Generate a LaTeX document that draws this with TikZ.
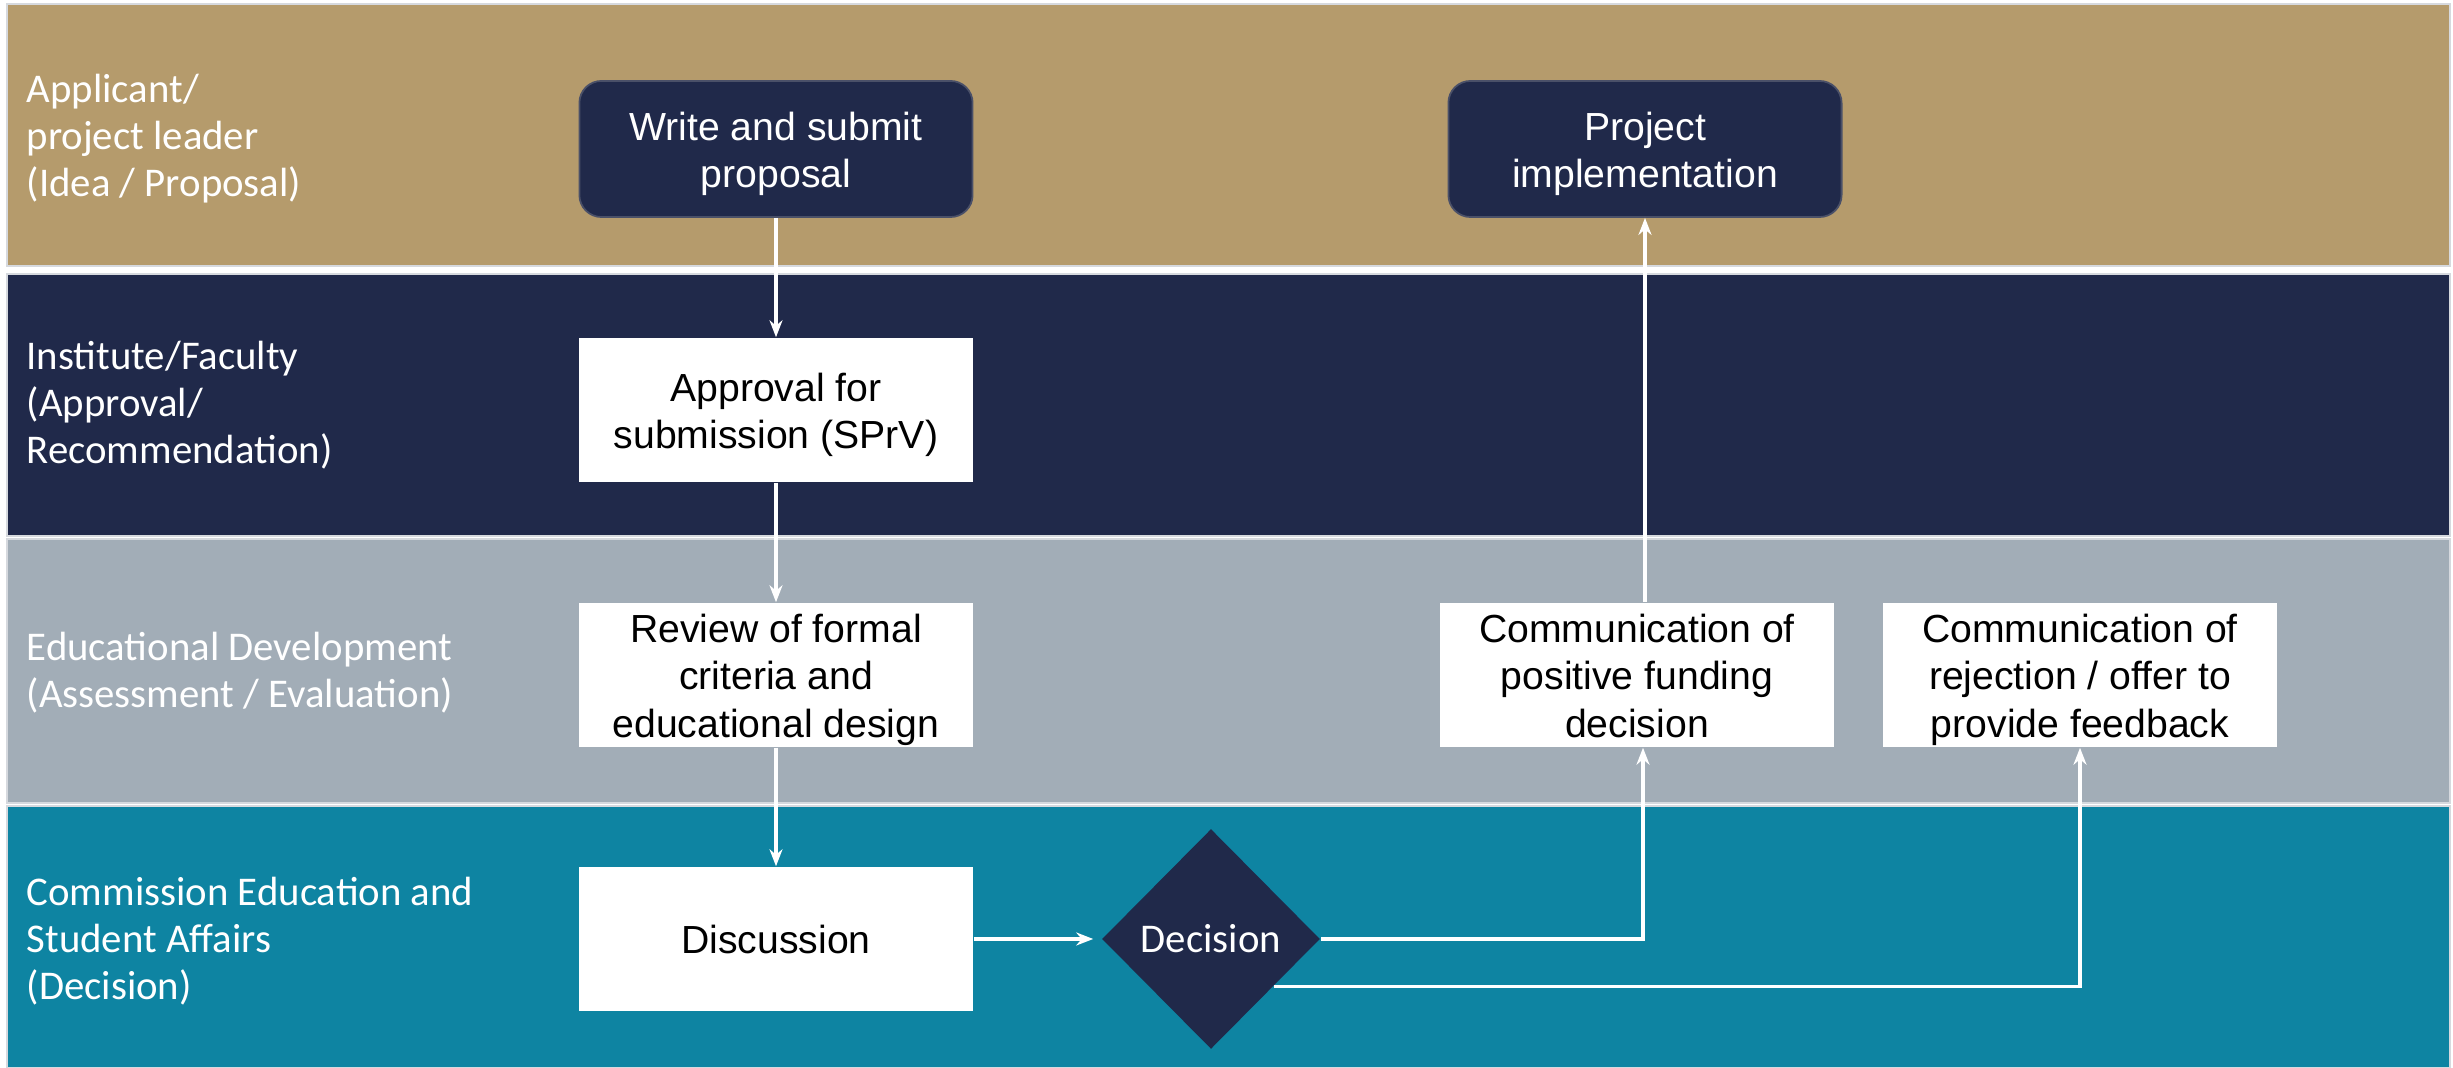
\documentclass[tikz,border=0pt]{standalone}
\usepackage{fontspec}
\setmainfont{Liberation Sans}
\newfontfamily\lanefont{Carlito}
\usetikzlibrary{shapes.geometric,arrows.meta,calc}
\definecolor{laneTan}{HTML}{B59B6C}
\definecolor{laneNavy}{HTML}{20294A}
\definecolor{laneGray}{HTML}{A2ADB7}
\definecolor{laneTeal}{HTML}{0E84A2}
\definecolor{laneEdge}{HTML}{D6D9DE}
\definecolor{boxEdge}{HTML}{4A5068}
\newcommand{\btext}[1]{\raisebox{-0.055cm}[\height][\depth]{\begin{tabular}{@{}c@{}}#1\end{tabular}}}
\begin{document}
\begin{tikzpicture}[x=0.01cm,y=-0.01cm,
  lane/.style={fill=#1, draw=laneEdge, line width=0.4pt},
  lanelabel/.style={anchor=west, align=left, text=white, inner sep=0pt,
    font=\lanefont\fontsize{11.6}{13.35}\selectfont},
  darkbox/.style={rounded corners=0.22cm, fill=laneNavy, draw=boxEdge, line width=0.5pt,
    text=white, minimum width=3.93cm, minimum height=1.36cm, inner sep=0pt,
    font=\fontsize{11.14}{13.4}\selectfont},
  whitebox/.style={fill=white, text=black, minimum width=3.94cm, minimum height=1.44cm,
    inner sep=0pt, font=\fontsize{11.14}{13.4}\selectfont},
  decbox/.style={shape=diamond, aspect=1, fill=laneNavy, text=white, inner sep=0pt,
    minimum width=2.18cm, minimum height=2.2cm, font=\lanefont\fontsize{11.6}{13.6}\selectfont},
  conn/.style={draw=white, line width=1pt, -{Stealth[length=0.17cm,width=0.13cm]}}
]
\useasboundingbox (0,0) rectangle (2453,1068);
\fill[white] (0,0) rectangle (2453,1068);

% lanes
\path[lane=laneTan]  (7,4)   rectangle (2450,266);
\path[lane=laneNavy] (7,274) rectangle (2450,536);
\path[lane=laneGray] (7,539) rectangle (2450,803);
\path[lane=laneTeal] (7,806) rectangle (2450,1068);

% lane labels
\node[lanelabel] (l1) at (26,139) {Applicant/\\project leader\\(Idea / Proposal)};
\node[lanelabel] (l2) at (26,405) {Institute/Faculty\\(Approval/\\Recommendation)};
\node[lanelabel] (l3) at (26,673) {Educational Development\\(Assessment / Evaluation)};
\node[lanelabel] (l4) at (26,941) {Commission Education and\\Student Affairs\\(Decision)};

% nodes
\node[darkbox]  (write)      at (776,149)  {\btext{Write and submit\\proposal}};
\node[whitebox] (approval)   at (776,410)  {\btext{Approval for\\submission (SPrV)}};
\node[whitebox] (review)     at (776,675)  {\btext{Review of formal\\criteria and\\educational design}};
\node[whitebox] (discussion) at (776,939)  {\btext{Discussion}};
\node[decbox]   (dec)        at (1211,939) {Decision};
\node[whitebox] (pos)        at (1637,675) {\btext{Communication of\\positive funding\\decision}};
\node[whitebox] (rej)        at (2080,675) {\btext{Communication of\\rejection / offer to\\provide feedback}};
\node[darkbox]  (proj)       at (1645,149) {\btext{Project\\implementation}};

% connectors
\draw[conn] (write.south) -- (approval.north);
\draw[conn] (approval.south) -- (review.north);
\draw[conn] (review.south) -- (discussion.north);
\draw[conn, shorten >=0.08cm] (discussion.east) -- (dec.west);
\draw[conn] (dec.east) -| ([xshift=0.06cm]pos.south);
\draw[conn] (proj.south |- pos.north) -- (proj.south);
\draw[conn] ($(dec.east)!0.43!(dec.south)$) -| (rej.south);
\end{tikzpicture}
\end{document}
